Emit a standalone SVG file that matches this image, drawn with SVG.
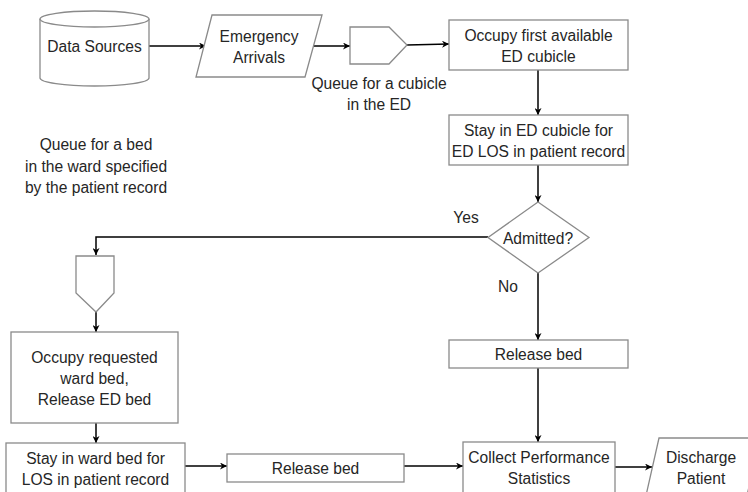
<svg xmlns="http://www.w3.org/2000/svg" width="748" height="492" viewBox="0 0 748 492">
<defs>
<marker id="arr" viewBox="0 0 10 10" refX="10" refY="5" markerWidth="7" markerHeight="7" orient="auto" markerUnits="userSpaceOnUse">
<path d="M0,0 L10,5 L0,10 L3,5 Z" fill="#000"/>
</marker>
<style>
.s{fill:#fff;stroke:#8a8a8a;stroke-width:1.3}
.c{fill:none;stroke:#000;stroke-width:1.5}
.a{marker-end:url(#arr)}
text{font-family:"Liberation Sans",Arial,sans-serif;font-size:15.6px;fill:#262626;text-anchor:middle;dominant-baseline:central}
</style>
</defs>
<rect width="748" height="492" fill="#fff"/>
<g id="connectors">
<line class="c a" x1="149" y1="46" x2="206" y2="46"/>
<line class="c a" x1="314" y1="46" x2="350" y2="46"/>
<line class="c a" x1="407" y1="45" x2="449" y2="44"/>
<line class="c a" x1="538" y1="70" x2="538" y2="115"/>
<line class="c a" x1="538" y1="165" x2="538" y2="202"/>
<polyline class="c a" points="488,237 96,237 96,255"/>
<line class="c a" x1="96" y1="312" x2="96" y2="332"/>
<line class="c a" x1="96" y1="423" x2="96" y2="443"/>
<line class="c a" x1="538" y1="273" x2="538" y2="340"/>
<line class="c a" x1="538" y1="368" x2="538" y2="442"/>
<line class="c a" x1="185" y1="466" x2="227" y2="466"/>
<line class="c a" x1="404" y1="466" x2="463" y2="466"/>
<line class="c a" x1="615" y1="467" x2="652" y2="467"/>
</g>
<g id="data-sources">
<path class="s" d="M40,19 L40,78 A54.5,8 0 0 0 149,78 L149,19 A54.5,8 0 0 0 40,19 Z"/>
<path class="s" d="M40,19 A54.5,8 0 0 0 149,19" fill="none"/>
<text x="94.5" y="46">Data Sources</text>
</g>
<g id="emergency-arrivals">
<polygon class="s" points="212,15 322,15 305,77 196,77"/>
<text x="259" y="36">Emergency</text>
<text x="259" y="57">Arrivals</text>
</g>
<g id="queue-cubicle">
<polygon class="s" points="350,27 389,27 407,45 389,64 350,64"/>
<text x="379" y="83">Queue for a cubicle</text>
<text x="379" y="104">in the ED</text>
</g>
<g id="occupy-cubicle">
<rect class="s" x="449" y="20" width="179" height="50"/>
<text x="538.5" y="35">Occupy first available</text>
<text x="538.5" y="56">ED cubicle</text>
</g>
<g id="stay-ed">
<rect class="s" x="449" y="115" width="179" height="50"/>
<text x="538.5" y="130">Stay in ED cubicle for</text>
<text x="538.5" y="151">ED LOS in patient record</text>
</g>
<g id="admitted">
<polygon class="s" points="538,202 589,237.5 538,273 488,237.5"/>
<text x="538" y="238">Admitted?</text>
<text x="466" y="217">Yes</text>
<text x="508" y="286">No</text>
</g>
<g id="queue-bed">
<polygon class="s" points="76,256 114,256 114,293 96,312 76,293"/>
<text x="96" y="144">Queue for a bed</text>
<text x="96" y="166">in the ward specified</text>
<text x="96" y="187">by the patient record</text>
</g>
<g id="occupy-ward">
<rect class="s" x="11" y="332" width="167" height="91"/>
<text x="94.5" y="357">Occupy requested</text>
<text x="94.5" y="378">ward bed,</text>
<text x="94.5" y="399">Release ED bed</text>
</g>
<g id="stay-ward">
<rect class="s" x="6" y="443" width="179" height="60"/>
<text x="95.5" y="458">Stay in ward bed for</text>
<text x="95.5" y="479">LOS in patient record</text>
</g>
<g id="release-bed-left">
<rect class="s" x="227" y="454" width="177" height="28"/>
<text x="315.5" y="468">Release bed</text>
</g>
<g id="release-bed-right">
<rect class="s" x="449" y="340" width="179" height="28"/>
<text x="538.5" y="354">Release bed</text>
</g>
<g id="collect-stats">
<rect class="s" x="463" y="442" width="152" height="60"/>
<text x="539" y="457">Collect Performance</text>
<text x="539" y="478">Statistics</text>
</g>
<g id="discharge">
<polygon class="s" points="659,438 760,438 746,500 645,500"/>
<text x="701" y="457">Discharge</text>
<text x="701" y="478">Patient</text>
</g>
</svg>
